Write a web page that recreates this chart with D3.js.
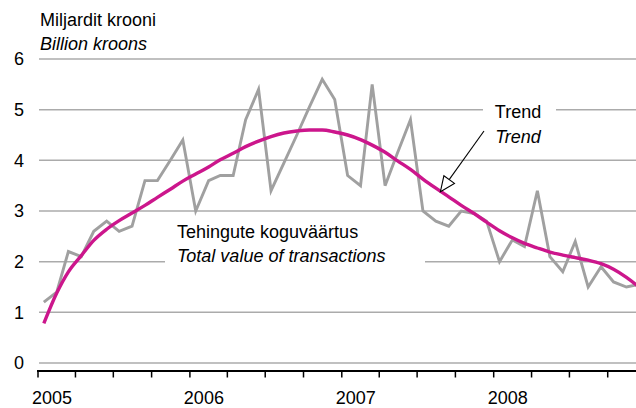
<!DOCTYPE html>
<html><head><meta charset="utf-8">
<script src="https://cdn.jsdelivr.net/npm/d3@7"></script>
<style>
html,body{margin:0;padding:0;background:#fff;}
svg{display:block;font-family:"Liberation Sans",Arial,sans-serif;}
</style></head>
<body><svg id="c" width="636" height="408"></svg>
<script>
// Monthly data, Jan 2005 .. Dec 2008
const startYear = 2005;
const totalValue = [
 1.2,1.4,2.2,2.1,2.6,2.8,2.6,2.7,3.6,3.6,4.0,4.4,
 3.0,3.6,3.7,3.7,4.8,5.4,3.4,3.95,4.5,5.05,5.6,5.2,
 3.7,3.5,5.5,3.5,4.15,4.8,3.0,2.8,2.7,3.0,2.95,2.8,
 2.0,2.43,2.3,3.4,2.1,1.8,2.4,1.5,1.9,1.6,1.5,1.55
];
const trendValue = [
 0.78,1.38,1.8,2.12,2.42,2.64,2.81,2.96,3.11,3.27,3.43,3.59,
 3.73,3.87,4.01,4.14,4.27,4.38,4.47,4.54,4.58,4.6,4.6,4.56,
 4.5,4.41,4.3,4.16,3.99,3.82,3.63,3.45,3.28,3.11,2.95,2.78,
 2.61,2.47,2.36,2.27,2.19,2.13,2.08,2.03,1.96,1.85,1.69,1.5
];
const yTicks = [0,1,2,3,4,5,6];
const yearLabels = ["2005","2006","2007","2008"];

const svg = d3.select("#c");
const W = 636, H = 408;
const x = d3.scaleTime().domain([new Date(2005,0,1), new Date(2009,0,1)]).range([38, 646]);
const y = d3.scaleLinear().domain([0,6]).range([363, 59]);
const months = totalValue.map((v,i)=> new Date(startYear + Math.floor(i/12), i%12, 15));

svg.append("defs").append("clipPath").attr("id","cl")
  .append("rect").attr("x",0).attr("y",0).attr("width",W).attr("height",H);

// gridlines
svg.append("g").selectAll("line").data(yTicks).join("line")
  .attr("x1",39).attr("x2",W)
  .attr("y1",d=>y(d)).attr("y2",d=>y(d))
  .attr("stroke","#ababab").attr("stroke-width",1.5);

// y tick labels
svg.append("g").selectAll("text").data(yTicks).join("text")
  .attr("x",24).attr("y",d=>y(d)).attr("dy","0.35em")
  .attr("text-anchor","end").attr("font-size",18).attr("fill","#000")
  .text(d=>d);

// units
svg.append("text").attr("x",40).attr("y",26).attr("font-size",18).text("Miljardit krooni");
svg.append("text").attr("x",40).attr("y",50).attr("font-size",18).attr("font-style","italic").text("Billion kroons");

// x axis
const axisY = 371;
svg.append("line").attr("x1",37).attr("x2",W).attr("y1",axisY).attr("y2",axisY)
  .attr("stroke","#000").attr("stroke-width",2.2);
const qTicks = d3.timeMonth.every(3).range(new Date(2005,0,1), new Date(2009,0,1));
svg.append("g").selectAll("line").data(qTicks).join("line")
  .attr("x1",d=>x(d)).attr("x2",d=>x(d)).attr("y1",axisY).attr("y2",axisY+6.5)
  .attr("stroke","#000").attr("stroke-width",1.5);
svg.append("g").selectAll("text").data(yearLabels).join("text")
  .attr("x",d=>x(new Date(+d,0,1))+14).attr("y",404)
  .attr("text-anchor","middle").attr("font-size",18).text(d=>d);

// label boxes
const lab1 = svg.append("g");
lab1.append("rect").attr("x",165).attr("y",221).attr("width",260).attr("height",50).attr("fill","#fff");
lab1.append("text").attr("x",177).attr("y",238).attr("font-size",18).text("Tehingute koguväärtus");
lab1.append("text").attr("x",177).attr("y",262).attr("font-size",18).attr("font-style","italic").text("Total value of transactions");

const lab2 = svg.append("g");
lab2.append("rect").attr("x",483).attr("y",98).attr("width",73).attr("height",52).attr("fill","#fff");
lab2.append("text").attr("x",518).attr("y",118).attr("text-anchor","middle").attr("font-size",18).text("Trend");
lab2.append("text").attr("x",518).attr("y",143).attr("text-anchor","middle").attr("font-size",18).attr("font-style","italic").text("Trend");

// data lines
const g = svg.append("g").attr("clip-path","url(#cl)");
const line = d3.line().x((d,i)=>x(months[i])).y(d=>y(d));
g.append("path").datum(totalValue).attr("d",line)
  .attr("fill","none").attr("stroke","#a0a0a0").attr("stroke-width",2.9).attr("stroke-linejoin","miter");
g.append("path").datum(trendValue).attr("d",line.curve(d3.curveMonotoneX))
  .attr("fill","none").attr("stroke","#cc168c").attr("stroke-width",3.4);

// arrow
const tip = [x(new Date(2007,7,26)), y(3.38)];
const from = [484, 131];
const ang = Math.atan2(from[1]-tip[1], from[0]-tip[0]);
const L = 15, Wd = 6.5;
const bx = tip[0] + L*Math.cos(ang), by = tip[1] + L*Math.sin(ang);
const px = -Math.sin(ang), py = Math.cos(ang);
svg.append("line").attr("x1",from[0]).attr("y1",from[1]).attr("x2",bx).attr("y2",by)
  .attr("stroke","#000").attr("stroke-width",1.1);
svg.append("path")
  .attr("d",`M${tip[0]},${tip[1]}L${bx+px*Wd},${by+py*Wd}L${bx-px*Wd},${by-py*Wd}Z`)
  .attr("fill","#fff").attr("stroke","#000").attr("stroke-width",1.1);
</script></body></html>
